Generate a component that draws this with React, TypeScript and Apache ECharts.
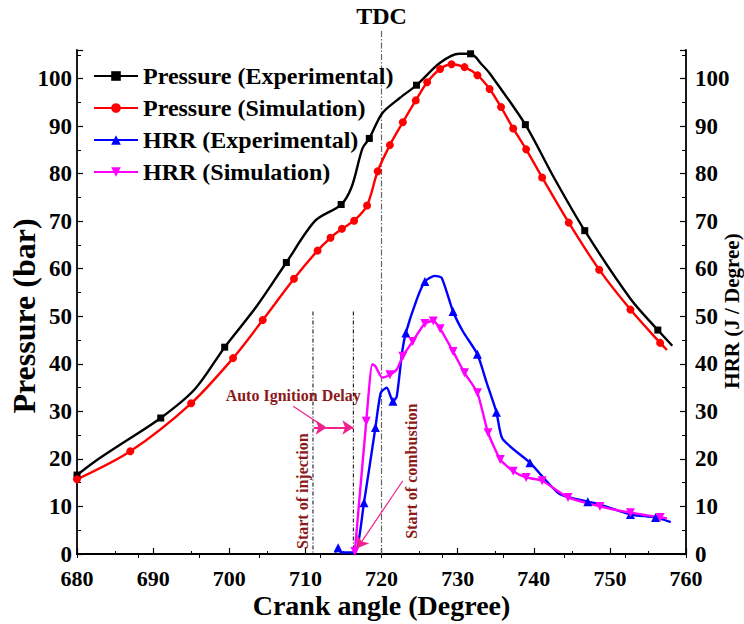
import React, { useEffect, useRef } from "react";
import * as echarts from "echarts";

// ---------- Data ----------
const pressureExpAngle = [680.0, 682.4, 685.4, 691.0, 695.5, 699.4, 703.6, 707.5, 711.3, 714.7, 716.1, 717.5, 718.4, 720.1, 722.4, 724.6, 727.7, 730.2, 731.7, 733.2, 734.2, 738.9, 742.5, 746.7, 752.7, 756.3, 758.2];
const pressureExpValue = [16.6, 19.5, 22.7, 28.6, 34.7, 43.5, 52.1, 61.3, 70.1, 73.5, 77.3, 85.3, 87.4, 92.7, 95.9, 98.6, 103.3, 105.2, 105.2, 102.9, 101.1, 90.3, 79.6, 68.0, 53.7, 47.1, 43.8];
const pressureExpMarkerAngles = [680.0, 691.0, 699.4, 707.5, 714.7, 718.4, 724.6, 731.7, 738.9, 746.7, 756.3];

const pressureSimAngle = [680.0, 687.0, 695.0, 700.5, 704.4, 708.5, 711.6, 713.3, 714.8, 716.4, 718.1, 719.5, 721.1, 722.8, 724.5, 726.0, 727.7, 729.2, 730.9, 732.6, 734.2, 735.7, 737.3, 739.0, 741.1, 744.6, 748.6, 752.7, 756.6, 757.5];
const pressureSimValue = [15.7, 21.6, 31.7, 41.2, 49.2, 57.9, 63.8, 66.5, 68.4, 70.1, 73.3, 80.5, 86.0, 90.8, 95.4, 99.2, 102.0, 103.0, 102.4, 100.7, 97.8, 94.0, 89.5, 85.1, 79.2, 69.7, 59.8, 51.4, 44.4, 42.9];
const pressureSimMarkerAngles = [680.0, 687.0, 695.0, 700.5, 704.4, 708.5, 711.6, 713.3, 714.8, 716.4, 718.1, 719.5, 721.1, 722.8, 724.5, 726.0, 727.7, 729.2, 730.9, 732.6, 734.2, 735.7, 737.3, 739.0, 741.1, 744.6, 748.6, 752.7, 756.6];

const hrrExpAngle = [713.9, 714.3, 714.7, 716.5, 717.7, 719.2, 719.9, 720.7, 721.5, 722.0, 722.7, 723.2, 724.6, 725.7, 727.0, 727.9, 729.4, 730.7, 732.6, 733.8, 735.1, 735.9, 739.5, 743.4, 747.1, 748.7, 752.7, 756.0, 758.0];
const hrrExpValue = [0.3, 1.3, 0.3, 0.3, 10.8, 26.6, 33.9, 35.0, 32.1, 33.1, 42.3, 46.5, 53.4, 57.3, 58.5, 58.1, 51.0, 46.8, 42.0, 36.1, 29.8, 24.2, 19.2, 12.6, 11.0, 10.4, 8.3, 7.7, 6.7];
const hrrExpMarkerAngles = [714.3, 717.7, 719.2, 721.5, 723.2, 725.7, 729.4, 732.6, 735.1, 739.5, 747.1, 752.7, 756.0];

const hrrSimAngle = [716.5, 718.0, 718.8, 719.2, 720.1, 721.1, 722.0, 722.8, 724.1, 725.7, 726.8, 727.7, 729.4, 730.9, 732.6, 734.0, 735.6, 737.3, 739.0, 741.1, 744.5, 748.7, 752.7, 756.6, 757.5];
const hrrSimValue = [0.5, 27.9, 39.9, 39.5, 37.1, 37.7, 38.8, 41.6, 44.7, 48.5, 49.0, 47.4, 42.6, 38.1, 33.9, 25.5, 19.9, 17.4, 16.1, 15.4, 11.9, 10.0, 8.7, 7.7, 7.5];
const hrrSimMarkerAngles = [716.5, 718.0, 721.1, 722.8, 724.1, 725.7, 726.8, 727.7, 729.4, 730.9, 732.6, 734.0, 735.6, 737.3, 739.0, 741.1, 744.5, 748.7, 752.7, 756.6];

const seriesNames = ["Pressure (Experimental)", "Pressure (Simulation)", "HRR (Experimental)", "HRR (Simulation)"];

// Annotation anchor values (crank angle, HRR)
const tdcAngle = 720;
const injectionAngle = 711.0;
const combustionAngle = 716.3;

const FONT = '"Liberation Serif", "Times New Roman", serif';

function buildData(angles: number[], values: number[], marked: number[]) {
  const set = new Set(marked);
  return angles.map((a, i) =>
    set.has(a) ? { value: [a, values[i]] } : { value: [a, values[i]], symbol: "none" }
  );
}

export default function App() {
  const ref = useRef<HTMLDivElement>(null);

  useEffect(() => {
    if (!ref.current) return;
    const chart = echarts.init(ref.current, undefined, { renderer: "svg" });

    const axisLine = { show: true, lineStyle: { color: "#000", width: 1.8 } };
    const labelStyle = { fontFamily: FONT, fontWeight: "bold" as const, color: "#000" };

    const lineBase = {
      type: "line" as const,
      smooth: 0.3,
      showAllSymbol: true,
      animation: false,
      z: 3,
    };

    const arrowColor = "#f0208c";

    const option: any = {
      animation: false,
      backgroundColor: "#fff",
      grid: { left: 77, right: 58, top: 50, bottom: 70, outerBoundsMode: "none" },
      legend: {
        data: seriesNames,
        orient: "vertical",
        left: 88,
        top: 59,
        itemWidth: 44,
        itemHeight: 12,
        itemGap: 8,
        textStyle: { ...labelStyle, fontSize: 24, lineHeight: 24 },
      },
      xAxis: [
        {
          type: "value",
          position: "bottom",
          min: 680,
          max: 760,
          interval: 10,
          axisLine,
          axisTick: { show: true, inside: true, length: 6, lineStyle: { color: "#000", width: 1.2 } },
          minorTick: { show: true, splitNumber: 2, length: 3, lineStyle: { color: "#000", width: 1 } },
          splitLine: { show: false },
          axisLabel: { ...labelStyle, fontSize: 22, lineHeight: 16, margin: 16 },
          name: "Crank angle (Degree)",
          nameLocation: "middle",
          nameGap: 37,
          nameMoveOverlap: false,
          nameTextStyle: { ...labelStyle, fontSize: 28 },
        },
        {
          type: "value",
          position: "top",
          min: 680,
          max: 760,
          interval: 8,
          axisLine,
          axisTick: { show: true, inside: true, length: 4, lineStyle: { color: "#000", width: 1 } },
          axisLabel: { show: false },
          splitLine: { show: false },
        },
      ],
      yAxis: [
        {
          type: "value",
          position: "left",
          min: 0,
          max: 106,
          interval: 10,
          axisLine,
          axisTick: { show: true, inside: true, length: 6, lineStyle: { color: "#000", width: 1.2 } },
          minorTick: { show: true, splitNumber: 2, length: 4, lineStyle: { color: "#000", width: 1 } },
          splitLine: { show: false },
          axisLabel: { ...labelStyle, fontSize: 23, lineHeight: 14, margin: 5, padding: [0, 0, 4, 0], showMaxLabel: false },
          name: "Pressure (bar)",
          nameLocation: "middle",
          nameRotate: 90,
          nameGap: 38,
          nameMoveOverlap: false,
          nameTextStyle: { ...labelStyle, fontSize: 32, lineHeight: 30, padding: [0, 28, 0, 0] },
        },
        {
          type: "value",
          position: "right",
          min: 0,
          max: 106,
          interval: 10,
          axisLine,
          axisTick: { show: true, inside: true, length: 6, lineStyle: { color: "#000", width: 1.2 } },
          minorTick: { show: true, splitNumber: 2, length: 4, lineStyle: { color: "#000", width: 1 } },
          splitLine: { show: false },
          axisLabel: { ...labelStyle, fontSize: 23, lineHeight: 14, margin: 9, padding: [0, 0, 4, 0], showMaxLabel: false },
          name: "HRR (J / Degree)",
          nameLocation: "middle",
          nameRotate: 90,
          nameGap: 36,
          nameMoveOverlap: false,
          nameTextStyle: { ...labelStyle, fontSize: 21, lineHeight: 20, padding: [0, 18, 0, 0] },
        },
      ],
      series: [
        {
          ...lineBase,
          name: seriesNames[0],
          xAxisIndex: 0,
          yAxisIndex: 0,
          symbol: "rect",
          symbolSize: 7,
          itemStyle: { color: "#000" },
          lineStyle: { color: "#000", width: 2.4 },
          data: buildData(pressureExpAngle, pressureExpValue, pressureExpMarkerAngles),
        },
        {
          ...lineBase,
          name: seriesNames[1],
          xAxisIndex: 0,
          yAxisIndex: 0,
          symbol: "circle",
          symbolSize: 8,
          itemStyle: { color: "#ff0000" },
          lineStyle: { color: "#ff0000", width: 2.4 },
          data: buildData(pressureSimAngle, pressureSimValue, pressureSimMarkerAngles),
        },
        {
          ...lineBase,
          smooth: 0.2,
          name: seriesNames[2],
          xAxisIndex: 0,
          yAxisIndex: 1,
          symbol: "triangle",
          symbolSize: 9,
          itemStyle: { color: "#0000ff" },
          lineStyle: { color: "#0000ff", width: 2.4 },
          data: buildData(hrrExpAngle, hrrExpValue, hrrExpMarkerAngles),
        },
        {
          ...lineBase,
          smooth: 0.2,
          name: seriesNames[3],
          xAxisIndex: 0,
          yAxisIndex: 1,
          symbol: "triangle",
          symbolRotate: 180,
          symbolSize: 9,
          itemStyle: { color: "#ff00ff" },
          lineStyle: { color: "#ff00ff", width: 2.4 },
          data: buildData(hrrSimAngle, hrrSimValue, hrrSimMarkerAngles),
          markLine: {
            silent: true,
            animation: false,
            symbol: ["none", "arrow"],
            symbolSize: 11,
            label: { show: false },
            emphasis: { disabled: true },
            lineStyle: { color: arrowColor, width: 2, type: "solid" },
            data: [
              [
                { coord: [708.4, 31.1], symbol: "none", lineStyle: { width: 1.2 } },
                { coord: [712.4, 26.8], symbol: "none" },
              ],
              [
                { coord: [711.1, 26.6] },
                { coord: [712.8, 26.6] },
              ],
              [
                { coord: [712.8, 26.6] },
                { coord: [716.3, 26.6] },
              ],
              [
                { coord: [722.8, 15.4], lineStyle: { width: 1.2 } },
                { coord: [716.8, 1.2] },
              ],
            ],
          },
        },
      ],
    };

    chart.setOption(option);

    const px = (x: number, y: number) => chart.convertToPixel({ seriesIndex: 2 }, [x, y]) as number[];
    const maroon = "#8b1a1a";
    const tdcTop = px(tdcAngle, 110);
    const tdcBottom = px(tdcAngle, 0);
    const injTop = px(injectionAngle, 51);
    const injBottom = px(injectionAngle, 0);
    const combTop = px(combustionAngle, 51);
    const combBottom = px(combustionAngle, 0);
    const tdcLabel = px(tdcAngle, 113.2);
    const aidLabel = px(708.4, 33.4);
    const injLabel = px(709.6, 13.2);
    const combLabel = px(723.9, 17.4);

    chart.setOption({
      graphic: [
        {
          type: "line",
          silent: true,
          z: 2,
          shape: { x1: tdcTop[0], y1: tdcTop[1], x2: tdcBottom[0], y2: tdcBottom[1] },
          style: { stroke: "#666", lineWidth: 1.2, lineDash: [6, 2, 1.5, 2] },
        },
        {
          type: "line",
          silent: true,
          z: 2,
          shape: { x1: injTop[0], y1: injTop[1], x2: injBottom[0], y2: injBottom[1] },
          style: { stroke: "#000", lineWidth: 1, lineDash: [4, 2, 1, 2] },
        },
        {
          type: "line",
          silent: true,
          z: 2,
          shape: { x1: combTop[0], y1: combTop[1], x2: combBottom[0], y2: combBottom[1] },
          style: { stroke: "#000", lineWidth: 1, lineDash: [4, 2, 1, 2] },
        },
        {
          type: "text",
          silent: true,
          x: tdcLabel[0],
          y: tdcLabel[1],
          style: { text: "TDC", fill: "#000", font: `bold 24px ${FONT}`, align: "center", verticalAlign: "middle" },
        },
        {
          type: "text",
          silent: true,
          x: aidLabel[0],
          y: aidLabel[1],
          style: { text: "Auto Ignition Delay", fill: maroon, font: `bold 16px ${FONT}`, align: "center", verticalAlign: "middle" },
        },
        {
          type: "text",
          silent: true,
          x: injLabel[0],
          y: injLabel[1],
          rotation: Math.PI / 2,
          style: { text: "Start of injection", fill: maroon, font: `bold 16px ${FONT}`, align: "center", verticalAlign: "middle" },
        },
        {
          type: "text",
          silent: true,
          x: combLabel[0],
          y: combLabel[1],
          rotation: Math.PI / 2,
          style: { text: "Start of combustion", fill: maroon, font: `bold 16px ${FONT}`, align: "center", verticalAlign: "middle" },
        },
      ],
    });

    return () => chart.dispose();
  }, []);

  return (
    <div
      ref={ref}
      style={{ position: "fixed", left: 0, top: 0, width: 744, height: 624, background: "#fff" }}
    />
  );
}
